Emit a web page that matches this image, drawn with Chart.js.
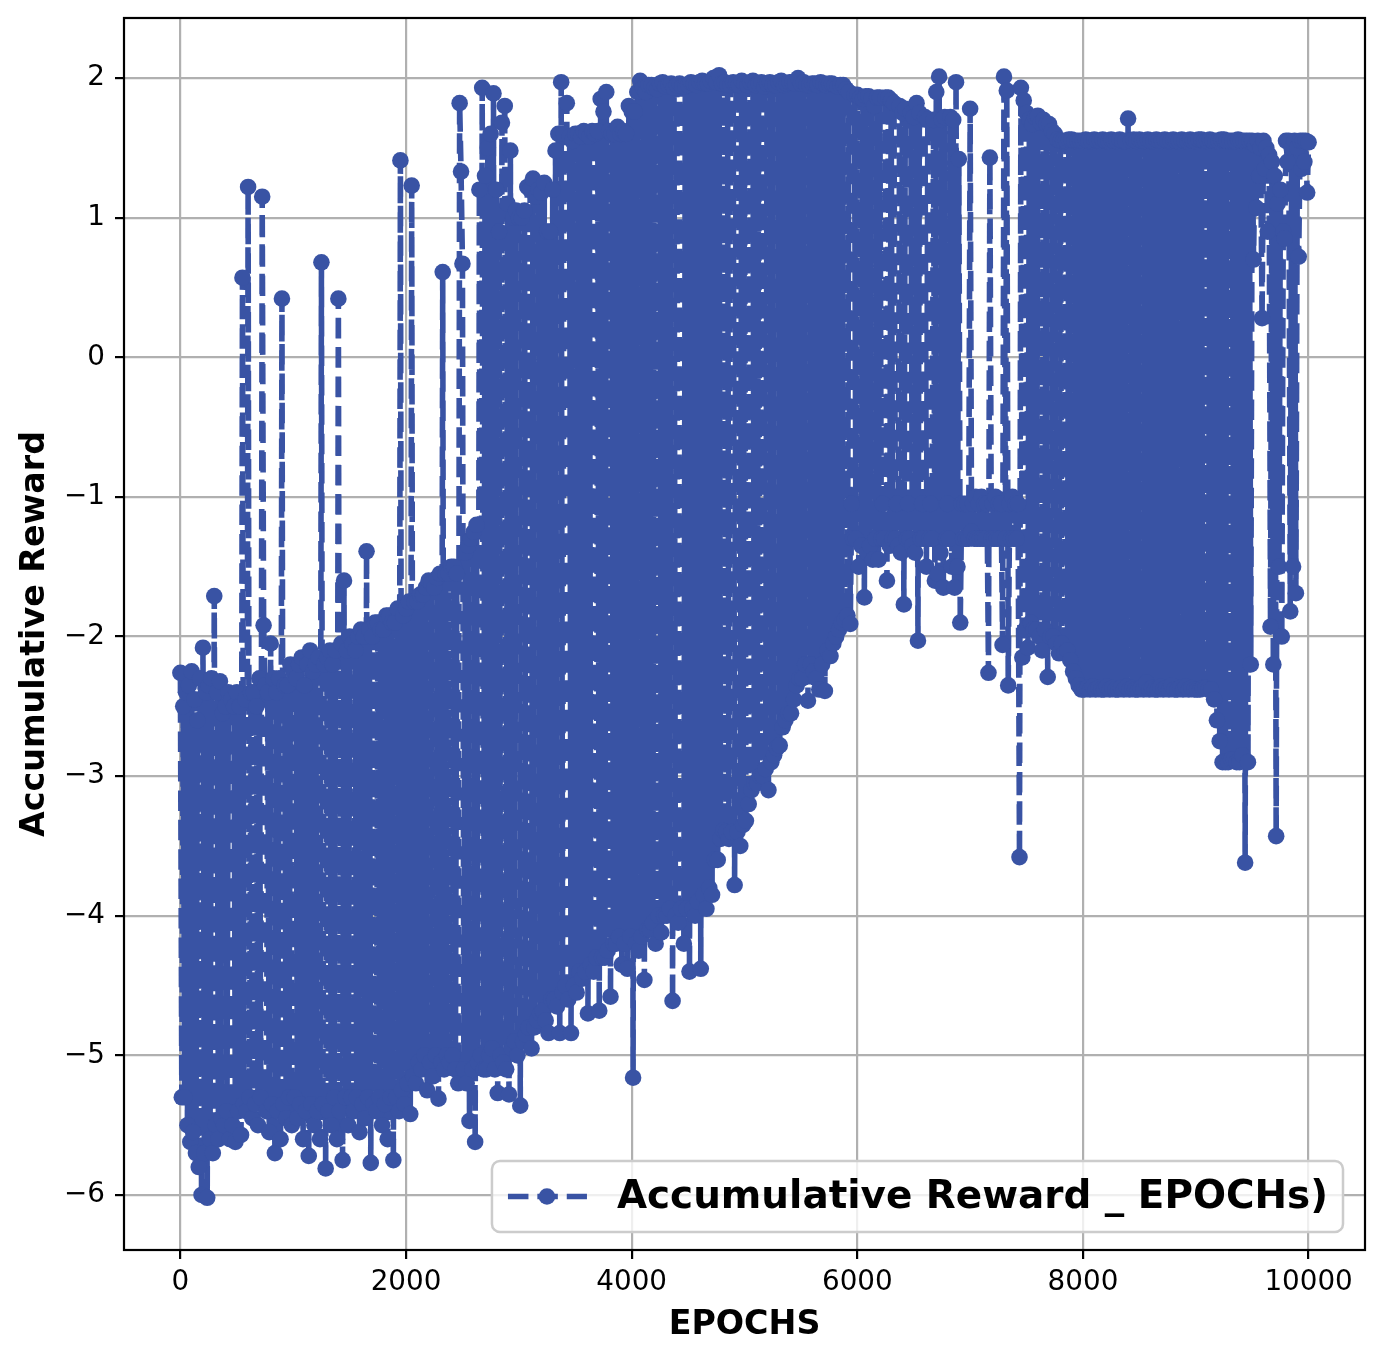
<!DOCTYPE html>
<html>
<head>
<meta charset="utf-8">
<title>Accumulative Reward</title>
<script src="https://cdn.jsdelivr.net/npm/chart.js@4.4.1/dist/chart.umd.min.js"></script>
<style>
  html, body { margin: 0; padding: 0; background: #fff; }
  #wrap { width: 1384px; height: 1362px; position: relative; }
</style>
</head>
<body>
<div id="wrap"><canvas id="chart"></canvas></div>
<script>
// reward: one peak and one trough per 25-epoch slot
// (peak at the slot start, trough half a slot later)
const STEP = 25;

// peaks, epochs 0 - 4975
const peaksA = [
  -2.26, -2.5, -2.4, -2.35, -2.25, -2.45, -2.6, -2.3, -2.08, -2.4, -2.35, -2.3, -1.71, -2.4, -2.32, -2.55, -2.5, -2.4, -2.45, -2.5,
  -2.4, -2.5, 0.57, -2.45, 1.22, -2.4, -2.4, -2.5, -2.3, 1.15, -2.35, -2.4, -2.05, -2.3, -2.4, -2.3, 0.42, -2.35, -2.35, -2.2,
  -2.25, -2.3, -2.2, -2.15, -2.35, -2.2, -2.1, -2.25, -2.2, -2.15, 0.68, -2.2, -2.15, -2.1, -2.2, -2.1, 0.42, -2.05, -1.6, -2.1,
  -2.0, -2.05, -2.1, -2.0, -1.95, -2.0, -1.39, -1.95, -2.0, -1.9, -1.9, -1.95, -1.95, -1.85, -1.85, -1.9, -1.9, -1.8, 1.41, -1.85,
  -1.8, -1.75, 1.23, -1.75, -1.75, -1.7, -1.7, -1.65, -1.6, -1.62, -1.65, -1.58, -1.55, 0.61, -1.55, -1.55, -1.5, -1.5, -1.55, 1.82,
  0.67, -1.4, -1.35, -1.3, -1.25, -1.2, 1.2, 1.93, 1.3, 1.5, 1.6, 1.89, 1.2, 0.9, 1.68, 1.8, 1.1, 1.48, 1.0, 1.05,
  1.0, 1.0, 1.05, 1.22, 1.2, 1.28, 1.15, 1.2, 1.18, 1.25, 0.9, 0.9, 1.2, 1.48, 1.6, 1.97, 1.6, 1.82, 1.58, 1.55,
  1.6, 1.6, 1.58, 1.62, 1.6, 1.58, 1.62, 1.6, 1.62, 1.85, 1.76, 1.9, 1.62, 1.6, 1.6, 1.65, 1.6, 1.62, 1.6, 1.8,
  1.76, 1.76, 1.9, 1.98, 1.93, 1.9, 1.95, 1.95, 1.93, 1.92, 1.96, 1.97, 1.94, 1.95, 1.96, 1.93, 1.95, 1.96, 1.94, 1.94,
  1.95, 1.97, 1.96, 1.95, 1.97, 1.98, 1.96, 1.96, 1.98, 2.0, 1.97, 2.02, 1.96, 1.97, 1.95, 1.95, 1.97, 1.96, 1.95, 1.98
];
// peaks, epochs 5000 - 10000
const peaksB = [
  1.96, 1.95, 1.97, 1.98, 1.95, 1.96, 1.97, 1.94, 1.96, 1.97, 1.95, 1.95, 1.97, 1.98, 1.95, 1.96, 1.97, 1.97, 1.96, 2.0,
  1.96, 1.97, 1.95, 1.95, 1.96, 1.96, 1.95, 1.97, 1.96, 1.95, 1.96, 1.96, 1.95, 1.94, 1.95, 1.95, 1.92, 1.9, -1.05, 1.88,
  1.88, 1.86, 1.85, 1.87, 1.87, 1.85, 1.8, 1.86, 1.86, -1.05, 1.86, 1.86, 1.84, 1.82, -1.05, 1.8, 1.75, 1.78, -1.05, 1.75,
  1.72, 1.82, 1.75, -1.05, 1.72, 1.7, -1.05, 1.7, 1.9, 2.01, 1.7, 1.72, -1.05, 1.72, 1.7, 1.97, 1.42, -1.05, -1.05, -1.05,
  1.78, -1.05, -1.0, -1.05, -1.0, -1.05, -1.05, 1.43, -1.05, -1.0, -1.05, -1.05, 2.01, 1.91, -1.05, -1.0, -1.05, -1.05, 1.93, 1.84,
  1.75, 1.7, 1.67, 1.72, 1.73, 1.68, 1.7, 1.67, 1.67, 1.62, 1.6, 1.56, 1.55, 1.55, 1.55, 1.56, 1.56, 1.55, 1.55, 1.55,
  1.55, 1.56, 1.55, 1.55, 1.56, 1.55, 1.55, 1.56, 1.55, 1.55, 1.56, 1.55, 1.55, 1.56, 1.55, 1.55, 1.71, 1.55, 1.56, 1.55,
  1.56, 1.55, 1.55, 1.56, 1.55, 1.55, 1.56, 1.55, 1.55, 1.56, 1.55, 1.55, 1.56, 1.55, 1.55, 1.56, 1.55, 1.55, 1.56, 1.55,
  1.55, 1.56, 1.56, 1.55, 1.55, 1.56, 1.55, 1.55, 1.55, 1.56, 1.56, 1.55, 1.55, 1.55, 1.55, 1.56, 1.55, 1.55, 1.55, 1.55,
  1.55, 1.52, 1.55, 1.5, 1.55, 1.5, 1.45, 1.4, 1.3, 1.1, 1.2, 0.9, 1.55, 1.55, 1.5, 1.55, 1.5, 1.55, 1.55, 1.55,
  1.54
];
// troughs, epochs 12.5 - 4987.5
const troughsA = [
  -5.3, -5.3, -5.5, -5.62, -5.55, -5.7, -5.8, -6.0, -5.7, -6.02, -5.6, -5.7, -5.5, -5.6, -5.45, -5.5, -5.4, -5.6, -5.5, -5.62,
  -5.4, -5.57, -5.35, -5.4, -5.3, -5.45, -5.35, -5.5, -5.3, -1.92, -5.4, -5.55, -5.35, -5.7, -5.4, -5.6, -5.35, -5.45, -5.3, -5.5,
  -5.3, -5.45, -5.35, -5.6, -5.4, -5.72, -5.35, -5.5, -5.4, -5.6, -5.35, -5.81, -5.4, -5.5, -5.3, -5.6, -5.4, -5.75, -5.3, -5.5,
  -5.3, -5.4, -5.3, -5.55, -5.35, -5.45, -5.3, -5.77, -5.35, -5.4, -5.3, -5.5, -5.35, -5.6, -5.3, -5.75, -5.3, -5.4, -5.25, -5.35,
  -5.2, -5.42, -5.15, -5.2, -5.05, -5.1, -5.0, -5.25, -5.05, -5.15, -5.0, -5.31, -5.05, -5.1, -5.0, -5.05, -5.0, -5.1, -5.2, 1.33,
  -5.1, -5.2, -5.47, -5.1, -5.62, -5.05, -5.0, -5.1, -5.1, -5.0, -4.95, -5.1, -5.27, -5.0, -5.05, -5.1, -5.28, -4.95, -4.9, -5.0,
  -5.36, -4.9, -4.85, -4.8, -4.95, -4.8, -4.75, -4.7, -4.68, -4.75, -4.84, -4.6, -4.6, -4.65, -4.84, -4.55, -4.5, -4.6, -4.84, -4.5,
  -4.55, -4.4, -4.45, -4.4, -4.7, -4.35, -4.4, -4.3, -4.68, -4.3, -4.3, -4.25, -4.58, -4.2, -4.2, -4.15, -4.35, -4.2, -4.38, -4.15,
  -5.16, -4.2, -4.25, -4.15, -4.46, -4.1, -4.1, -4.05, -4.2, -4.0, -4.12, -4.0, -4.0, -3.95, -4.61, -4.0, -4.05, -3.95, -4.2, -3.95,
  -4.4, -3.95, -4.0, -3.9, -4.38, -3.85, -3.95, -3.8, -3.85, -3.6, -3.6, -3.45, -3.39, -3.4, -3.45, -3.4, -3.78, -3.4, -3.5, -3.35
];
// troughs, epochs 5012.5 - 9987.5
const troughsB = [
  -3.32, -3.2, -3.1, -3.05, -3.05, -3.0, -3.0, -2.95, -3.1, -2.9, -2.85, -2.8, -2.78, -2.65, -2.6, -2.55, -2.55, -2.45, -2.35, -2.3,
  -2.3, -2.2, -2.46, -2.2, -2.25, -2.3, -2.38, -2.2, -2.39, -2.1, -2.14, -2.05, -2.0, -1.95, -1.9, -1.88, -1.85, -1.91, -1.3, -1.3,
  -1.5, -1.35, -1.72, -1.4, -1.35, -1.45, -1.3, -1.45, -1.3, -1.3, -1.6, -1.35, -1.3, -1.3, -1.35, -1.4, -1.77, -1.3, -1.3, -1.35,
  -1.4, -2.03, -1.3, -1.3, -1.5, -1.3, -1.3, -1.6, -1.55, -1.4, -1.65, -1.3, -1.3, -1.5, -1.65, -1.5, -1.9, -1.3, -1.3, -1.3,
  -1.25, -1.3, -1.3, -1.3, -1.3, -1.3, -2.26, -1.3, -1.3, -1.3, -1.3, -2.06, -1.3, -2.35, -1.3, -1.3, -1.3, -3.58, -2.15, -1.95,
  -2.08, -1.9, -1.95, -1.95, -2.0, -2.1, -1.95, -2.29, -2.0, -2.0, -2.05, -2.12, -2.05, -2.12, -2.1, -2.17, -2.25, -2.3, -2.35, -2.38,
  -2.38, -2.37, -2.38, -2.36, -2.38, -2.37, -2.38, -2.38, -2.36, -2.38, -2.37, -2.38, -2.38, -2.37, -2.38, -2.36, -2.38, -2.37, -2.38, -2.38,
  -2.37, -2.38, -2.33, -2.38, -2.37, -2.38, -2.38, -2.36, -2.38, -2.37, -2.38, -2.35, -2.38, -2.38, -2.37, -2.38, -2.36, -2.38, -2.37, -2.38,
  -2.38, -2.38, -2.37, -2.37, -2.38, -2.38, -2.45, -2.6, -2.75, -2.9, -2.9, -2.9, -2.88, -2.88, -2.9, -2.9, -2.85, -3.62, -2.9, -2.2,
  0.7, 1.07, 1.3, 0.28, 1.35, 0.9, -1.93, -2.2, -3.43, -1.5, -2.0, 0.85, 1.4, -1.82, -1.5, -1.69, 0.72, 1.35, 1.4, 1.18
];

const peaks = peaksA.concat(peaksB);
const troughs = troughsA.concat(troughsB);

const xTicks = [0, 2000, 4000, 6000, 8000, 10000];
const yTicks = [-6, -5, -4, -3, -2, -1, 0, 1, 2];
const seriesLabel = 'Accumulative Reward _ EPOCHs)';

const BLUE = '#3953a4';
const FONT = '"DejaVu Sans", sans-serif';
const DASH = [20.5, 8.9];

// interleave peak / trough readings into one series
const points = [];
peaks.forEach((p, k) => {
  points.push({ x: k * STEP, y: p });
  if (k < troughs.length) points.push({ x: k * STEP + STEP / 2, y: troughs[k] });
});

const minus = v => (v < 0 ? '\u2212' + Math.abs(v) : String(v));

// axes frame + legend box drawn inside the plot area (bottom right)
const frameAndLegend = {
  id: 'frameAndLegend',
  afterDatasetsDraw(chart) {
    const { ctx, chartArea: a } = chart;
    ctx.save();
    ctx.strokeStyle = '#000';
    ctx.lineWidth = 2.2;
    ctx.setLineDash([]);
    ctx.strokeRect(a.left, a.top, a.right - a.left, a.bottom - a.top);

    ctx.font = 'bold 38.9px ' + FONT;
    const textW = ctx.measureText(seriesLabel).width;
    const w = 125 + textW + 15, h = 71, r = 8;
    const right = a.right - 22, bottom = a.bottom - 18;
    const left = right - w, top = bottom - h;
    ctx.beginPath();
    ctx.moveTo(left + r, top);
    ctx.lineTo(right - r, top);
    ctx.arcTo(right, top, right, top + r, r);
    ctx.lineTo(right, bottom - r);
    ctx.arcTo(right, bottom, right - r, bottom, r);
    ctx.lineTo(left + r, bottom);
    ctx.arcTo(left, bottom, left, bottom - r, r);
    ctx.lineTo(left, top + r);
    ctx.arcTo(left, top, left + r, top, r);
    ctx.closePath();
    ctx.fillStyle = 'rgba(255,255,255,0.8)';
    ctx.fill();
    ctx.strokeStyle = '#cccccc';
    ctx.lineWidth = 2.5;
    ctx.stroke();

    const cy = (top + bottom) / 2;
    ctx.strokeStyle = BLUE;
    ctx.lineWidth = 5.6;
    ctx.setLineDash(DASH);
    ctx.beginPath();
    ctx.moveTo(left + 16, cy);
    ctx.lineTo(left + 95, cy);
    ctx.stroke();
    ctx.setLineDash([]);
    ctx.fillStyle = BLUE;
    ctx.beginPath();
    ctx.arc(left + 55, cy, 8.3, 0, Math.PI * 2);
    ctx.fill();

    ctx.fillStyle = '#000';
    ctx.textBaseline = 'middle';
    ctx.textAlign = 'left';
    ctx.fillText(seriesLabel, left + 125, cy + 1);
    ctx.restore();
  }
};

const gridStyle = {
  color: '#b0b0b0',
  lineWidth: 2.2,
  tickColor: '#000',
  tickWidth: 2.2,
  tickLength: 9
};

new Chart(document.getElementById('chart'), {
  type: 'line',
  data: {
    datasets: [{
      label: seriesLabel,
      data: points,
      borderColor: BLUE,
      backgroundColor: BLUE,
      borderWidth: 5.6,
      borderDash: DASH,
      borderJoinStyle: 'round',
      pointRadius: 8.3,
      pointHoverRadius: 8.3,
      pointBackgroundColor: BLUE,
      pointBorderWidth: 0,
      tension: 0,
      fill: false
    }]
  },
  options: {
    responsive: true,
    maintainAspectRatio: false,
    animation: false,
    devicePixelRatio: 1,
    events: [],
    layout: { padding: { left: 0, top: 18, right: 19, bottom: 0 } },
    plugins: { legend: { display: false }, tooltip: { enabled: false } },
    scales: {
      x: {
        type: 'linear',
        min: -500,
        max: 10500,
        afterBuildTicks: s => { s.ticks = xTicks.map(v => ({ value: v })); },
        afterFit: s => { s.height = 112; s.paddingLeft = 0; s.paddingRight = 0; },
        grid: gridStyle,
        border: { display: false },
        ticks: {
          font: { family: FONT, size: 27.8 },
          color: '#000',
          padding: 7,
          maxRotation: 0,
          autoSkip: false,
          callback: v => minus(v)
        },
        title: {
          display: true,
          text: 'EPOCHS',
          color: '#000',
          font: { family: FONT, size: 33.3, weight: 'bold' },
          padding: { top: 0, bottom: 17 }
        }
      },
      y: {
        type: 'linear',
        min: -6.394,
        max: 2.43,
        afterBuildTicks: s => { s.ticks = yTicks.map(v => ({ value: v })); },
        afterFit: s => { s.width = 124; s.paddingTop = 0; s.paddingBottom = 0; },
        grid: gridStyle,
        border: { display: false },
        ticks: {
          font: { family: FONT, size: 27.8 },
          color: '#000',
          padding: 10,
          autoSkip: false,
          callback: v => minus(v)
        },
        title: {
          display: true,
          text: 'Accumulative Reward',
          color: '#000',
          font: { family: FONT, size: 33.3, weight: 'bold' },
          padding: { top: 15, bottom: 0 }
        }
      }
    }
  },
  plugins: [frameAndLegend]
});
</script>
</body>
</html>
